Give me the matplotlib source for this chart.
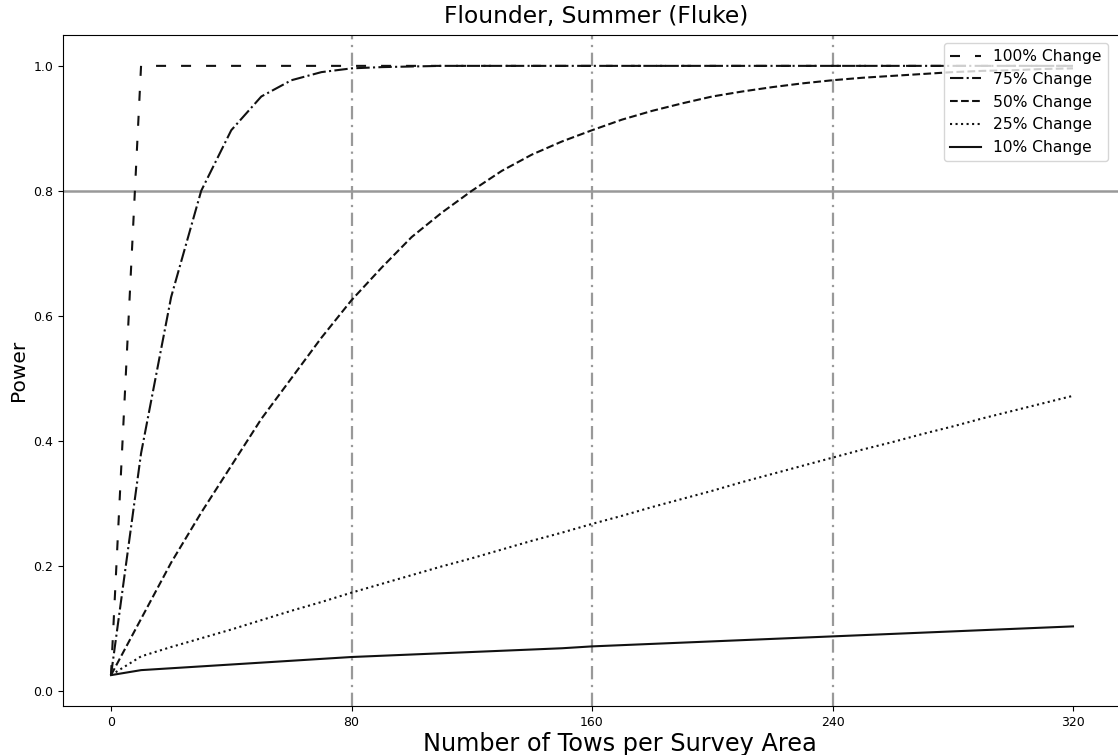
import matplotlib
matplotlib.use("Agg")
import matplotlib.pyplot as plt

tows = [0, 10, 20, 30, 40, 50, 60, 70, 80, 90, 100, 110, 120, 130, 140, 150, 160,
        170, 180, 190, 200, 210, 220, 230, 240, 250, 260, 270, 280, 290, 300, 310, 320]

power_100 = [0.025] + [1.0] * 32
power_75 = [0.025, 0.38, 0.63, 0.80, 0.897, 0.951, 0.977, 0.990, 0.996, 0.998, 0.999,
            1.0, 1.0, 1.0, 1.0, 1.0, 1.0, 1.0, 1.0, 1.0, 1.0, 1.0, 1.0, 1.0, 1.0,
            1.0, 1.0, 1.0, 1.0, 1.0, 1.0, 1.0, 1.0]
power_50 = [0.025, 0.115, 0.205, 0.285, 0.36, 0.435, 0.50, 0.565, 0.625, 0.677, 0.726,
            0.765, 0.80, 0.832, 0.858, 0.879, 0.897, 0.914, 0.928, 0.94, 0.951, 0.959,
            0.966, 0.972, 0.977, 0.981, 0.984, 0.987, 0.990, 0.992, 0.993, 0.995, 0.996]
power_25 = [0.025, 0.055, 0.070, 0.084, 0.098, 0.113, 0.128, 0.142, 0.157, 0.171, 0.185,
            0.199, 0.212, 0.226, 0.240, 0.253, 0.267, 0.280, 0.294, 0.307, 0.320, 0.334,
            0.347, 0.360, 0.373, 0.386, 0.398, 0.411, 0.423, 0.436, 0.448, 0.460, 0.472]
power_10 = [0.025, 0.033, 0.036, 0.039, 0.042, 0.045, 0.048, 0.051, 0.054, 0.056, 0.058,
            0.060, 0.062, 0.064, 0.066, 0.068, 0.071, 0.073, 0.075, 0.077, 0.079, 0.081,
            0.083, 0.085, 0.087, 0.089, 0.091, 0.093, 0.095, 0.097, 0.099, 0.101, 0.103]

labels = ["100% Change", "75% Change", "50% Change", "25% Change", "10% Change"]
xticks = [0, 80, 160, 240, 320]
vlines = [80, 160, 240]
threshold = 0.8

W, H = 1118, 755
fig = plt.figure(figsize=(W / 100, H / 100), dpi=100)
ax_left, ax_right = 63, 1130
ax = fig.add_axes([ax_left / W, 49 / H, (ax_right - ax_left) / W, (706 - 35) / H])

styles = [(0, (4.8, 7.2)), "-.", "--", ":", "-"]
series = [power_100, power_75, power_50, power_25, power_10]
for ys, ls, lab in zip(series, styles, labels):
    ax.plot(tows, ys, color="#111111", linestyle=ls, linewidth=1.5, label=lab)

ax.axhline(threshold, color="#999999", linewidth=1.8, zorder=1)
for v in vlines:
    ax.axvline(v, color="#999999", linewidth=1.6, linestyle=(0, (6, 2.5, 1, 2.5)), zorder=1)

# x scale: 0 -> px 111, 320 -> px 1073
ppu = (1073 - 111) / 320
ax.set_xlim(-(111 - ax_left) / ppu, (ax_right - 111) / ppu)
ax.set_ylim(-0.0244, 1.0494)
ax.spines["right"].set_visible(False)
ax.set_xticks(xticks)
ax.set_yticks([0.0, 0.2, 0.4, 0.6, 0.8, 1.0])
ax.tick_params(labelsize=9)
ax.set_title("Flounder, Summer (Fluke)", fontsize=16.8, pad=9)
ax.set_xlabel("Number of Tows per Survey Area", fontsize=17.3, labelpad=2,
              x=(620 - ax_left) / (ax_right - ax_left))
ax.set_ylabel("Power", fontsize=14.5)
ax.legend(loc="upper right", fontsize=11.2,
          bbox_to_anchor=((1116 - ax_left) / (ax_right - ax_left), 1.0))

fig.savefig("out.png", dpi=100)
